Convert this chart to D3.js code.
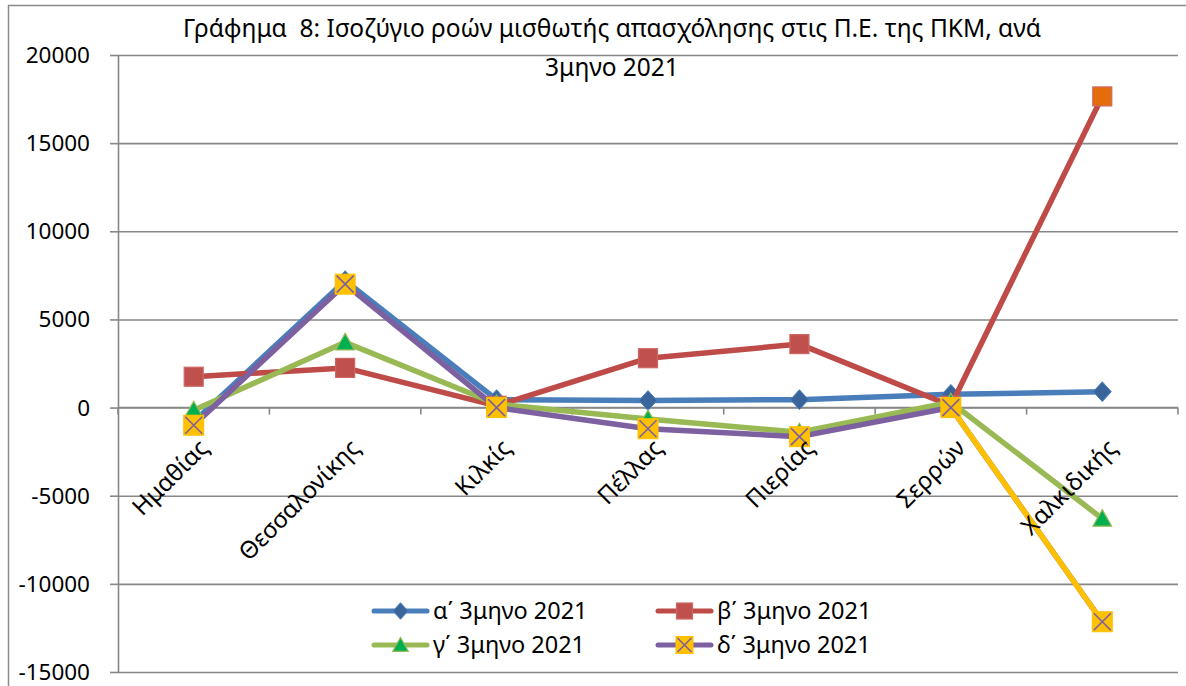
<!DOCTYPE html>
<html>
<head>
<meta charset="utf-8">
<script src="https://cdn.jsdelivr.net/npm/d3@7"></script>
<style>
body { margin: 0; background: #fff; }
svg text { font-family: "Noto Sans", sans-serif; fill: #000; }
</style>
</head>
<body>
<svg id="chart" width="1186" height="686"></svg>
<script>
// data
var categories = ["Ημαθίας", "Θεσσαλονίκης", "Κιλκίς", "Πέλλας", "Πιερίας", "Σερρών", "Χαλκιδικής"];
var seriesNames = ["α΄ 3μηνο 2021", "β΄ 3μηνο 2021", "γ΄ 3μηνο 2021", "δ΄ 3μηνο 2021"];
var q1 = [-800, 7200, 450, 400, 450, 750, 900];
var q2 = [1750, 2250, 100, 2800, 3600, 100, 17650];
var q3 = [-150, 3700, 200, -650, -1400, 300, -6300];
var q4 = [-1000, 7000, 0, -1200, -1650, 0, -12150];
var yTicks = [20000, 15000, 10000, 5000, 0, -5000, -10000, -15000];
var titleLines = ["Γράφημα  8: Ισοζύγιο ροών μισθωτής απασχόλησης στις Π.Ε. της ΠΚΜ, ανά", "3μηνο 2021"];

function lineChart(id) {
  var svg = d3.select(id),
    width = +svg.attr("width"),
    height = +svg.attr("height");

  var left = 118, right = 1178, top = 55, bottom = 672;

  var x = d3.scaleBand().domain(categories).range([left, right]);
  var y = d3.scaleLinear().domain([-15000, 20000]).range([bottom, top]);
  var cx = function(c) { return x(c) + x.bandwidth() / 2; };

  // outer chart border
  svg.append("rect")
      .attr("x", 8.5).attr("y", 5.5)
      .attr("width", width + 20).attr("height", height + 20)
      .attr("fill", "none").attr("stroke", "#8a8a8a").attr("stroke-width", 1.5);

  // title
  svg.append("g").selectAll("text")
    .data(titleLines)
    .enter().append("text")
      .attr("x", 612)
      .attr("y", function(d, i) { return 37 + i * 39; })
      .attr("text-anchor", "middle")
      .style("white-space", "pre")
      .attr("font-size", 24.5)
      .text(function(d) { return d; });

  // gridlines
  var grid = svg.append("g")
      .attr("transform", "translate(" + left + ",0)")
      .call(d3.axisLeft(y).tickValues(yTicks).tickSize(-(right - left)).tickFormat(""));
  grid.select(".domain").remove();
  grid.selectAll("line").attr("stroke", "#878787").attr("stroke-width", 1.6);

  // y axis
  var yAxis = svg.append("g")
      .attr("transform", "translate(" + left + ",0)")
      .call(d3.axisLeft(y).tickValues(yTicks).tickSize(8).tickPadding(20).tickFormat(function(d) { return String(d); }));
  yAxis.select(".domain").attr("stroke", "#878787").attr("stroke-width", 1.6).attr("d", "M0.5," + top + "V" + bottom);
  yAxis.selectAll("line").attr("stroke", "#878787").attr("stroke-width", 1.6);
  yAxis.selectAll("text")
      .attr("font-size", 22.5)
      .attr("font-family", "Noto Sans")
      .attr("fill", "#000")
      .attr("dy", "0.33em");

  // x axis at zero
  var y0 = y(0);
  svg.append("line")
      .attr("x1", left).attr("x2", right).attr("y1", y0).attr("y2", y0)
      .attr("stroke", "#878787").attr("stroke-width", 1.6);
  svg.append("g").selectAll("line")
    .data(d3.range(categories.length + 1))
    .enter().append("line")
      .attr("x1", function(i) { return left + i * x.step(); })
      .attr("x2", function(i) { return left + i * x.step(); })
      .attr("y1", y0).attr("y2", y0 + 7)
      .attr("stroke", "#878787").attr("stroke-width", 1.6);

  var series = [
    {name: seriesNames[0], values: q1, line: "#4a7ebb", marker: "diamond", fill: "#3a659a", stroke: "#4a7ebb"},
    {name: seriesNames[1], values: q2, line: "#be4b48", marker: "square", fill: "#c0504d", stroke: "#cd6764"},
    {name: seriesNames[2], values: q3, line: "#98b954", marker: "triangle", fill: "#00b050", stroke: "#98b954"},
    {name: seriesNames[3], values: q4, line: "#7d60a0", marker: "xsquare", fill: "#ffc000", stroke: "#ffc000"}
  ];
  // single points formatted differently in the original
  var lastSegColor = {3: "#ffc000"};
  var lastMarkerFill = {1: "#e46c0a"};

  var line = d3.line()
      .x(function(d) { return cx(d.c); })
      .y(function(d) { return y(d.v); });

  function drawMarker(g, type, fill, stroke, s) {
    if (type === "diamond") {
      g.append("path").attr("d", "M0," + (-s * 0.55) + "L" + (s * 0.5) + ",0L0," + (s * 0.55) + "L" + (-s * 0.5) + ",0Z")
        .attr("fill", fill).attr("stroke", stroke).attr("stroke-width", 1);
    } else if (type === "square") {
      g.append("rect").attr("x", -s / 2).attr("y", -s / 2).attr("width", s).attr("height", s)
        .attr("fill", fill).attr("stroke", stroke).attr("stroke-width", 1.2);
    } else if (type === "triangle") {
      g.append("path").attr("d", "M0," + (-s * 0.5) + "L" + (s * 0.52) + "," + (s * 0.42) + "L" + (-s * 0.52) + "," + (s * 0.42) + "Z")
        .attr("fill", fill).attr("stroke", stroke).attr("stroke-width", 1.2);
    } else {
      g.append("rect").attr("x", -s / 2).attr("y", -s / 2).attr("width", s).attr("height", s)
        .attr("fill", fill).attr("stroke", stroke).attr("stroke-width", 1);
      var h = s / 2 - 1.5;
      g.append("path").attr("d", "M" + (-h) + "," + (-h) + "L" + h + "," + h + "M" + h + "," + (-h) + "L" + (-h) + "," + h)
        .attr("stroke", "#7d60a0").attr("stroke-width", 1.6).attr("fill", "none");
    }
  }
  var markerSize = {diamond: 18, square: 19, triangle: 18, xsquare: 20};

  series.forEach(function(s, si) {
    var pts = s.values.map(function(v, i) { return {c: categories[i], v: v}; });
    var g = svg.append("g").attr("class", "series");
    g.append("path")
        .datum(pts)
        .attr("d", line)
        .attr("fill", "none")
        .attr("stroke", s.line)
        .attr("stroke-width", 5.5)
        .attr("stroke-linejoin", "round");
    if (lastSegColor[si]) {
      g.append("path")
          .datum(pts.slice(-2))
          .attr("d", line)
          .attr("fill", "none")
          .attr("stroke", lastSegColor[si])
          .attr("stroke-width", 5.5);
    }
    g.selectAll(".mk")
      .data(pts)
      .enter().append("g")
        .attr("class", "mk")
        .attr("transform", function(d) { return "translate(" + cx(d.c) + "," + y(d.v) + ")"; })
        .each(function(d, i) {
          var f = (lastMarkerFill[si] && i === pts.length - 1) ? lastMarkerFill[si] : s.fill;
          drawMarker(d3.select(this), s.marker, f, s.stroke, markerSize[s.marker]);
        });
  });

  // category labels sit on top of the lines
  svg.append("g").selectAll("text")
    .data(categories)
    .enter().append("text")
      .attr("transform", function(d) { return "translate(" + (cx(d) + 16) + "," + (y0 + 42) + ") rotate(-45)"; })
      .attr("text-anchor", "end")
      .attr("font-size", 24)
      .text(function(d) { return d; });

  // legend
  var legend = svg.append("g").selectAll("g")
    .data(series)
    .enter().append("g")
      .attr("transform", function(d, i) { return "translate(" + (i % 2 ? 658 : 374) + "," + (i < 2 ? 611 : 645) + ")"; });
  legend.append("line")
      .attr("x1", 0).attr("x2", 53)
      .attr("stroke", function(d) { return d.line; })
      .attr("stroke-width", 5)
      .attr("stroke-linecap", "round");
  legend.append("g")
      .attr("transform", "translate(26.5,0)")
      .each(function(d) { drawMarker(d3.select(this), d.marker, d.fill, d.stroke, markerSize[d.marker] - 3); });
  legend.append("text")
      .attr("x", 59)
      .attr("dy", "0.35em")
      .attr("font-size", 23.5)
      .text(function(d) { return d.name; });
}

lineChart("#chart");
</script>
</body>
</html>
